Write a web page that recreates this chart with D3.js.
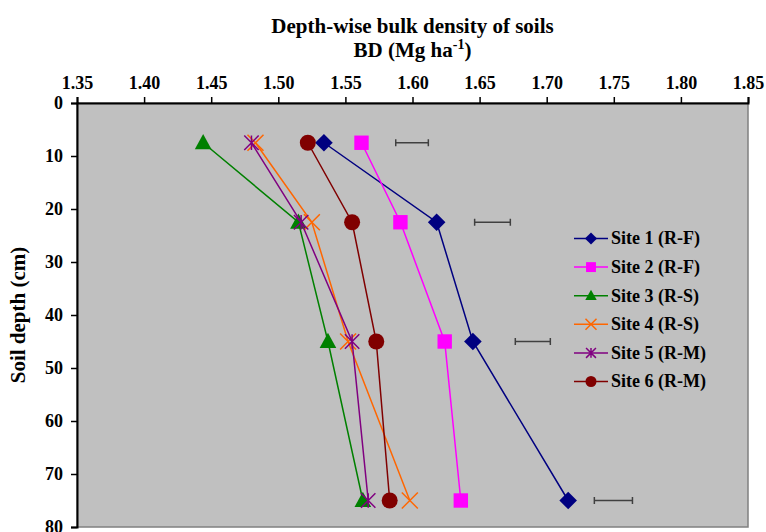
<!DOCTYPE html>
<html>
<head>
<meta charset="utf-8">
<script src="https://cdn.jsdelivr.net/npm/d3@7"></script>
<style>
  body { margin: 0; background: #fff; }
  svg { display: block; }
  text { font-family: "Liberation Serif", "Times New Roman", serif; font-weight: bold; fill: #000; }
</style>
</head>
<body>
<svg id="chart" width="766" height="532"></svg>
<script>
// ---- Data ----
const depths = [7.5, 22.5, 45, 75];
const seriesNames = ["Site 1 (R-F)", "Site 2 (R-F)", "Site 3 (R-S)", "Site 4 (R-S)", "Site 5 (R-M)", "Site 6 (R-M)"];
const site1 = [1.534, 1.618, 1.645, 1.716];
const site2 = [1.562, 1.591, 1.624, 1.636];
const site3 = [1.444, 1.515, 1.537, 1.563];
const site4 = [1.483, 1.525, 1.552, 1.598];
const site5 = [1.480, 1.517, 1.555, 1.567];
const site6 = [1.522, 1.555, 1.573, 1.583];
// LSD bars (horizontal) at each depth
const lsdLeft  = [1.5875, 1.6463, 1.6766, 1.7355];
const lsdRight = [1.6118, 1.6729, 1.7027, 1.7639];
const xTicks = [1.35, 1.40, 1.45, 1.50, 1.55, 1.60, 1.65, 1.70, 1.75, 1.80, 1.85];
const yTicks = [0, 10, 20, 30, 40, 50, 60, 70, 80];

const seriesValues = [site1, site2, site3, site4, site5, site6];
const colors = ["#000080", "#FF00FF", "#008000", "#FF6600", "#800080", "#800000"];
const shapes = ["diamond", "square", "triangle", "x", "star", "circle"];

// ---- Layout ----
const svg = d3.select("#chart");
const L = 77, R = 748, T = 103, B = 527;
const x = d3.scaleLinear().domain([1.35, 1.85]).range([L, R]);
const y = d3.scaleLinear().domain([0, 80]).range([T, B]);

// plot background
svg.append("rect").attr("x", L).attr("y", T).attr("width", R - L).attr("height", B - T)
  .attr("fill", "#C0C0C0").attr("stroke", "#808080").attr("stroke-width", 1.5);

// axes
const xAxis = d3.axisTop(x).tickValues(xTicks).tickFormat(d3.format(".2f")).tickSizeOuter(0).tickSize(6).tickPadding(8);
const gx = svg.append("g").attr("transform", `translate(0,${T})`).call(xAxis);
gx.select(".domain").attr("stroke", "#000").attr("stroke-width", 2);
gx.selectAll(".tick line").attr("stroke", "#000").attr("stroke-width", 1.5);
gx.selectAll("text").style("font-size", "18px").style("font-family", "'Liberation Serif', serif").style("font-weight", "bold");

const yAxis = d3.axisLeft(y).tickValues(yTicks).tickFormat(d3.format("d")).tickSizeOuter(0).tickSize(6).tickPadding(8);
const gy = svg.append("g").attr("transform", `translate(${L},0)`).call(yAxis);
gy.select(".domain").attr("stroke", "#000").attr("stroke-width", 2);
gy.selectAll(".tick line").attr("stroke", "#000").attr("stroke-width", 1.5);
gy.selectAll("text").style("font-size", "18px").style("font-family", "'Liberation Serif', serif").style("font-weight", "bold");

// titles
svg.append("text").attr("x", (L + R) / 2).attr("y", 33).attr("text-anchor", "middle")
  .style("font-size", "21px").text("Depth-wise bulk density of soils");
const t2 = svg.append("text").attr("x", (L + R) / 2).attr("y", 57).attr("text-anchor", "middle")
  .style("font-size", "21px");
t2.append("tspan").text("BD (Mg ha");
t2.append("tspan").attr("dy", -8).style("font-size", "14px").text("-1");
t2.append("tspan").attr("dy", 8).text(")");

svg.append("text").attr("transform", `translate(25,${(T + B) / 2}) rotate(-90)`)
  .attr("text-anchor", "middle").style("font-size", "21px").text("Soil depth (cm)");

// symbols
function drawMarker(g, shape, cx, cy, size, color) {
  const s = size;
  if (shape === "diamond") {
    g.append("path").attr("d", `M${cx},${cy - s * 0.55}L${cx + s * 0.55},${cy}L${cx},${cy + s * 0.55}L${cx - s * 0.55},${cy}Z`).attr("fill", color);
  } else if (shape === "square") {
    g.append("rect").attr("x", cx - s * 0.45).attr("y", cy - s * 0.45).attr("width", s * 0.9).attr("height", s * 0.9).attr("fill", color);
  } else if (shape === "triangle") {
    g.append("path").attr("d", `M${cx},${cy - s * 0.55}L${cx + s * 0.52},${cy + s * 0.4}L${cx - s * 0.52},${cy + s * 0.4}Z`).attr("fill", color);
  } else if (shape === "x") {
    const h = s * 0.5;
    g.append("path").attr("d", `M${cx - h},${cy - h}L${cx + h},${cy + h}M${cx - h},${cy + h}L${cx + h},${cy - h}`)
      .attr("stroke", color).attr("stroke-width", 1.5).attr("fill", "none");
  } else if (shape === "star") {
    const h = s * 0.45;
    g.append("path").attr("d", `M${cx - h},${cy - h}L${cx + h},${cy + h}M${cx - h},${cy + h}L${cx + h},${cy - h}M${cx},${cy - h}L${cx},${cy + h}`)
      .attr("stroke", color).attr("stroke-width", 1.5).attr("fill", "none");
  } else if (shape === "circle") {
    g.append("circle").attr("cx", cx).attr("cy", cy).attr("r", s * 0.5).attr("fill", color);
  }
}

// LSD bars
const eg = svg.append("g");
depths.forEach((d, i) => {
  const yy = y(d), x1 = x(lsdLeft[i]), x2 = x(lsdRight[i]);
  eg.append("line").attr("x1", x1).attr("x2", x2).attr("y1", yy).attr("y2", yy).attr("stroke", "#404040").attr("stroke-width", 1.5);
  [x1, x2].forEach(xx => eg.append("line").attr("x1", xx).attr("x2", xx).attr("y1", yy - 3.5).attr("y2", yy + 3.5).attr("stroke", "#404040").attr("stroke-width", 1.5));
});

// series
const line = d3.line().x(d => x(d[0])).y(d => y(d[1]));
seriesValues.forEach((vals, si) => {
  const g = svg.append("g");
  const pts = vals.map((v, i) => [v, depths[i]]);
  g.append("path").attr("d", line(pts)).attr("fill", "none").attr("stroke", colors[si]).attr("stroke-width", 1.5);
  pts.forEach(p => drawMarker(g, shapes[si], x(p[0]), y(p[1]), 16, colors[si]));
});

// legend
const lg = svg.append("g");
seriesNames.forEach((name, i) => {
  const yy = 238.5 + i * 28.6;
  lg.append("line").attr("x1", 574).attr("x2", 608).attr("y1", yy).attr("y2", yy).attr("stroke", colors[i]).attr("stroke-width", 1.5);
  drawMarker(lg, shapes[i], 591, yy, 11, colors[i]);
  lg.append("text").attr("x", 611).attr("y", yy).attr("dy", "0.33em").style("font-size", "18px").text(name);
});
</script>
</body>
</html>
